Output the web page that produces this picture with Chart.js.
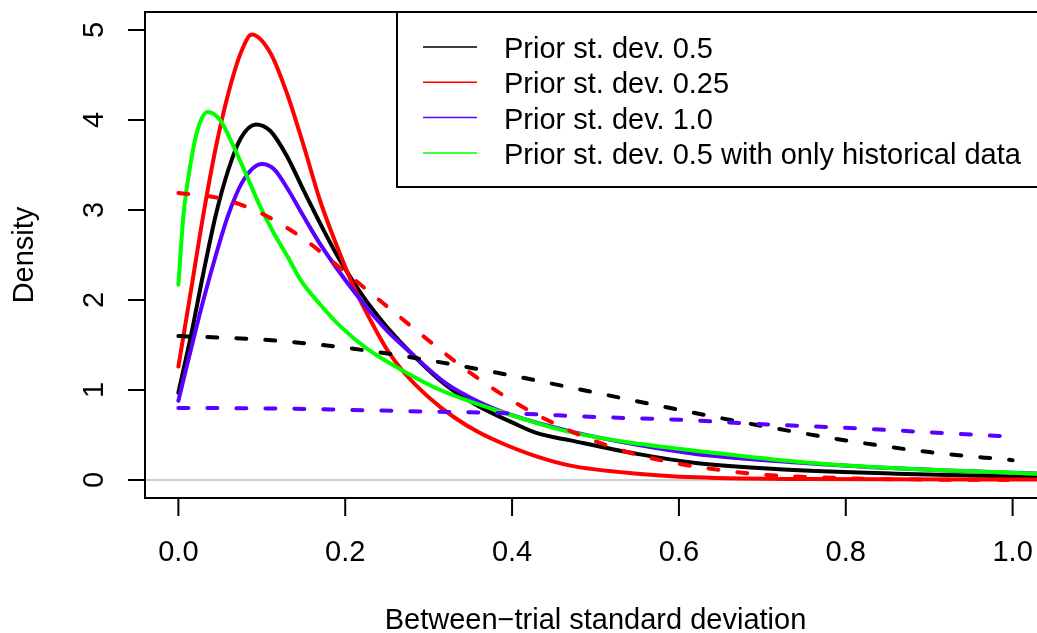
<!DOCTYPE html>
<html>
<head>
<meta charset="utf-8">
<script src="https://cdn.jsdelivr.net/npm/chart.js@4"></script>
<style>
  html, body { margin: 0; padding: 0; background: #fff; overflow: hidden; }
  #c { display: block; }
</style>
</head>
<body>
<canvas id="c" width="1050" height="633"></canvas>
<script>
// Posterior densities of the between-trial SD (solid) and the half-normal priors (dashed)
const seriesNames = [
  'Prior st. dev. 0.5',
  'Prior st. dev. 0.25',
  'Prior st. dev. 1.0',
  'Prior st. dev. 0.5 with only historical data'
];
const seriesColors = ['#000000', '#ff0000', '#5a00ff', '#00ff00'];

// posterior, prior sd 0.5
const xPost05 = [0, 0.015, 0.03, 0.045, 0.06, 0.075, 0.093, 0.11, 0.13, 0.15, 0.17, 0.19, 0.21, 0.23, 0.25, 0.28, 0.32, 0.36, 0.4, 0.43, 0.47, 0.55, 0.62, 0.72, 0.86, 1.0, 1.04];
const yPost05 = [0.97, 1.6, 2.3, 2.95, 3.45, 3.8, 3.95, 3.88, 3.6, 3.22, 2.85, 2.5, 2.2, 1.93, 1.7, 1.4, 1.06, 0.82, 0.64, 0.52, 0.44, 0.29, 0.19, 0.12, 0.07, 0.04, 0.035];

// posterior, prior sd 0.25
const xPost025 = [0, 0.015, 0.03, 0.045, 0.06, 0.075, 0.088, 0.11, 0.13, 0.15, 0.17, 0.19, 0.21, 0.23, 0.25, 0.27, 0.3, 0.33, 0.36, 0.39, 0.43, 0.47, 0.55, 0.62, 0.75, 1.04];
const yPost025 = [1.26, 2.1, 2.95, 3.7, 4.3, 4.75, 4.95, 4.75, 4.3, 3.72, 3.1, 2.6, 2.15, 1.78, 1.45, 1.2, 0.92, 0.7, 0.53, 0.4, 0.26, 0.16, 0.07, 0.03, 0.01, 0.005];

// posterior, prior sd 1.0
const xPost1 = [0, 0.015, 0.03, 0.045, 0.06, 0.078, 0.1, 0.115, 0.13, 0.15, 0.17, 0.19, 0.21, 0.23, 0.25, 0.28, 0.32, 0.36, 0.4, 0.47, 0.55, 0.62, 0.75, 0.86, 1.0, 1.04];
const yPost1 = [0.88, 1.45, 2.0, 2.5, 2.95, 3.33, 3.51, 3.45, 3.25, 2.93, 2.62, 2.35, 2.1, 1.87, 1.66, 1.4, 1.08, 0.87, 0.72, 0.54, 0.39, 0.29, 0.19, 0.13, 0.08, 0.07];

// posterior, prior sd 0.5, historical trials only
const xHist = [0, 0.006, 0.014, 0.023, 0.035, 0.05, 0.066, 0.082, 0.098, 0.114, 0.131, 0.146, 0.17, 0.194, 0.226, 0.274, 0.314, 0.386, 0.466, 0.545, 0.625, 0.745, 0.861, 1.0, 1.04];
const yHist = [2.17, 2.93, 3.48, 3.89, 4.09, 4.0, 3.71, 3.38, 3.04, 2.75, 2.48, 2.23, 1.95, 1.71, 1.46, 1.19, 1.0, 0.76, 0.54, 0.41, 0.32, 0.2, 0.13, 0.08, 0.065];

// half-normal prior curves
const xPrior = [0, 0.1, 0.2, 0.3, 0.4, 0.5, 0.6, 0.7, 0.8, 0.9, 1.0];
const yPrior05 = [1.6, 1.56, 1.47, 1.33, 1.16, 0.97, 0.78, 0.6, 0.44, 0.31, 0.22];
const yPrior1 = [0.8, 0.796, 0.78, 0.76, 0.74, 0.7, 0.67, 0.62, 0.58, 0.53, 0.48];
const xPrior025 = [0, 0.05, 0.1, 0.15, 0.2, 0.25, 0.3, 0.35, 0.4, 0.45, 0.5, 0.55, 0.6, 0.65, 0.7, 0.8, 0.9, 1.0];
const yPrior025 = [3.19, 3.13, 2.96, 2.68, 2.31, 1.93, 1.55, 1.19, 0.88, 0.63, 0.43, 0.28, 0.18, 0.11, 0.06, 0.02, 0.005, 0.001];

const xTicks = [0, 0.2, 0.4, 0.6, 0.8, 1.0];
const xTickLabels = ['0.0', '0.2', '0.4', '0.6', '0.8', '1.0'];
const yTicks = [0, 1, 2, 3, 4, 5];
const yTickLabels = ['0', '1', '2', '3', '4', '5'];
const xTitle = 'Between\u2212trial standard deviation';
const yTitle = 'Density';

const FONT = '29px "Liberation Sans", Arial, Helvetica, sans-serif';

function pts(xs, ys) {
  return xs.map((x, i) => ({ x: x, y: ys[i] }));
}

function line(xs, ys, color, dashed, order) {
  return {
    data: pts(xs, ys),
    borderColor: color,
    borderWidth: 4,
    borderDash: dashed ? [10, 19] : [],
    borderCapStyle: 'round',
    borderJoinStyle: 'round',
    cubicInterpolationMode: 'monotone',
    pointRadius: 0,
    fill: false,
    order: order
  };
}

// R-style frame, axes, titles and legend
const rDecor = {
  id: 'rDecor',
  beforeDatasetsDraw(chart) {
    const { ctx, chartArea: a, scales } = chart;
    const y0 = scales.y.getPixelForValue(0);
    ctx.save();
    ctx.strokeStyle = '#bebebe';
    ctx.lineWidth = 1.5;
    ctx.beginPath();
    ctx.moveTo(a.left, y0);
    ctx.lineTo(a.right, y0);
    ctx.stroke();
    ctx.restore();
  },
  afterDraw(chart) {
    const { ctx, chartArea: a, scales } = chart;
    ctx.save();
    ctx.strokeStyle = '#000';
    ctx.fillStyle = '#000';
    ctx.lineWidth = 2;
    ctx.strokeRect(a.left, a.top, a.right - a.left, a.bottom - a.top);

    ctx.font = FONT;
    // x axis
    ctx.textAlign = 'center';
    ctx.textBaseline = 'alphabetic';
    xTicks.forEach((v, i) => {
      const px = scales.x.getPixelForValue(v);
      ctx.beginPath();
      ctx.moveTo(px, a.bottom);
      ctx.lineTo(px, a.bottom + 18);
      ctx.stroke();
      ctx.fillText(xTickLabels[i], px, 561);
    });
    ctx.fillText(xTitle, (a.left + a.right) / 2, 629);

    // y axis
    yTicks.forEach((v, i) => {
      const py = scales.y.getPixelForValue(v);
      ctx.beginPath();
      ctx.moveTo(a.left, py);
      ctx.lineTo(a.left - 17, py);
      ctx.stroke();
      ctx.save();
      ctx.translate(103, py);
      ctx.rotate(-Math.PI / 2);
      ctx.fillText(yTickLabels[i], 0, 0);
      ctx.restore();
    });
    ctx.save();
    ctx.translate(33, (a.top + a.bottom) / 2);
    ctx.rotate(-Math.PI / 2);
    ctx.fillText(yTitle, 0, 0);
    ctx.restore();

    // legend
    const lx = 397, ly = a.top, lb = 187;
    ctx.fillStyle = '#fff';
    ctx.fillRect(lx, ly, a.right - lx, lb - ly);
    ctx.strokeRect(lx, ly, a.right - lx, lb - ly);
    ctx.textAlign = 'left';
    seriesNames.forEach((name, i) => {
      const yc = 47 + i * 35.3;
      ctx.strokeStyle = seriesColors[i];
      ctx.lineWidth = 1.5;
      ctx.beginPath();
      ctx.moveTo(423, yc);
      ctx.lineTo(477, yc);
      ctx.stroke();
      ctx.fillStyle = '#000';
      ctx.fillText(name, 504, yc + 11);
    });
    ctx.restore();
  }
};

new Chart(document.getElementById('c'), {
  type: 'line',
  data: {
    datasets: [
      line(xPost05, yPost05, seriesColors[0], false, 7),
      line(xPost025, yPost025, seriesColors[1], false, 6),
      line(xPost1, yPost1, seriesColors[2], false, 5),
      line(xHist, yHist, seriesColors[3], false, 4),
      line(xPrior, yPrior05, seriesColors[0], true, 3),
      line(xPrior025, yPrior025, seriesColors[1], true, 2),
      line(xPrior, yPrior1, seriesColors[2], true, 1)
    ]
  },
  options: {
    responsive: false,
    animation: false,
    devicePixelRatio: 1,
    layout: { padding: { left: 145, top: 12, right: 4, bottom: 135 } },
    plugins: { legend: { display: false }, tooltip: { enabled: false } },
    scales: {
      x: { type: 'linear', min: -0.04, max: 1.04, display: false },
      y: { type: 'linear', min: -0.2, max: 5.2, display: false }
    }
  },
  plugins: [rDecor]
});
</script>
</body>
</html>
